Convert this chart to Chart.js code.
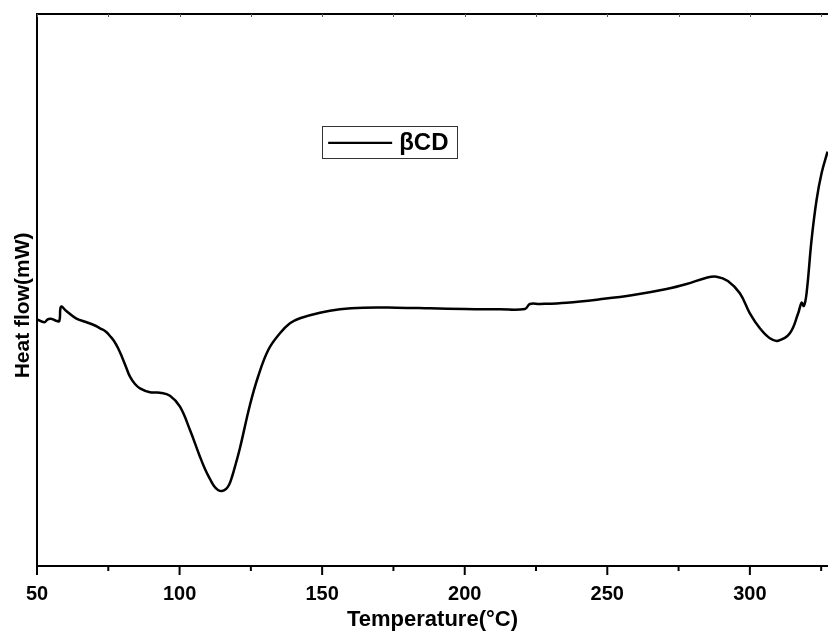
<!DOCTYPE html>
<html>
<head>
<meta charset="utf-8">
<script src="https://cdn.jsdelivr.net/npm/chart.js@4/dist/chart.umd.min.js"></script>
<style>
html,body{margin:0;padding:0;background:#fff;}
#c{display:block;}
</style>
</head>
<body>
<canvas id="c" width="828" height="632"></canvas>
<script>
// Temperature (°C)
const temperature = [50.0,52.56,53.75,54.91,56.66,57.82,58.42,60.17,63.67,67.18,70.69,72.09,74.19,75.60,77.00,78.40,79.80,81.21,82.61,84.36,86.11,89.62,93.13,96.63,100.14,103.65,107.15,108.91,110.66,112.06,113.46,114.87,116.27,117.32,118.37,119.78,121.18,124.68,127.49,131.10,135.20,138.71,142.22,149.23,156.24,164.41,176.12,187.80,200.07,212.34,221.11,222.86,226.37,235.73,247.41,259.08,270.79,277.80,284.81,288.32,292.28,296.49,300.0,303.51,307.01,309.92,314.03,316.94,318.13,318.93,319.88,321.63,323.39,325.14,327.24];
// Heat flow (arbitrary units)
const heatFlow = [24.67,24.37,24.67,24.73,24.53,24.50,25.93,25.53,24.77,24.40,24.00,23.77,23.43,23.00,22.50,21.80,20.90,19.90,18.93,18.20,17.77,17.37,17.33,17.03,15.93,13.60,10.93,9.70,8.70,8.00,7.60,7.50,7.70,8.10,8.90,10.30,11.80,16.10,18.90,21.60,23.27,24.27,24.77,25.33,25.67,25.83,25.83,25.77,25.70,25.67,25.70,26.20,26.20,26.33,26.67,27.10,27.70,28.20,28.83,28.93,28.50,27.27,25.27,23.77,22.77,22.53,23.27,25.27,26.33,26.00,27.27,32.60,36.60,39.27,41.43];
const xTickValues = [50,100,150,200,250,300];
const xMinorValues = [75,125,175,225,275,325];
const seriesLabel = 'βCD';
const xTitle = 'Temperature(°C)';
const yTitle = 'Heat flow(mW)';

const points = temperature.map((t,i)=>({x:t,y:heatFlow[i]}));
const FONT = '"Liberation Sans", Arial, sans-serif';

const decor = {
  id:'decor',
  afterDraw(chart){
    const ctx = chart.ctx, ca = chart.chartArea, xs = chart.scales.x;
    ctx.save();
    ctx.strokeStyle = '#000';
    ctx.lineWidth = 2;
    // top border
    ctx.beginPath();
    ctx.moveTo(ca.left-1, ca.top);
    ctx.lineTo(ca.right, ca.top);
    ctx.stroke();
    // bottom ticks
    xTickValues.forEach(v=>{
      const p = xs.getPixelForValue(v);
      ctx.beginPath(); ctx.moveTo(p, ca.bottom); ctx.lineTo(p, ca.bottom+9); ctx.stroke();
    });
    xMinorValues.forEach(v=>{
      if(v>xs.max) return;
      const p = xs.getPixelForValue(v);
      ctx.beginPath(); ctx.moveTo(p, ca.bottom); ctx.lineTo(p, ca.bottom+5); ctx.stroke();
    });
    // tiny top ticks
    ctx.lineWidth = 1;
    ctx.strokeStyle = '#555';
    xTickValues.concat(xMinorValues).forEach(v=>{
      if(v>xs.max) return;
      const p = Math.round(xs.getPixelForValue(v))+0.5;
      ctx.beginPath(); ctx.moveTo(p, ca.top); ctx.lineTo(p, ca.top+3); ctx.stroke();
    });
    // y axis title
    ctx.save();
    ctx.fillStyle = '#000';
    ctx.font = 'bold 21px ' + FONT;
    ctx.textAlign = 'center';
    ctx.textBaseline = 'middle';
    ctx.translate(23, ca.top + 0.528*(ca.bottom-ca.top));
    ctx.rotate(-Math.PI/2);
    ctx.fillText(yTitle, 0, 0);
    ctx.restore();
    // legend
    const lx = ca.left + 0.3605*(ca.right-ca.left);
    const ly = ca.top + 0.2035*(ca.bottom-ca.top);
    ctx.strokeStyle = '#333';
    ctx.lineWidth = 1;
    ctx.strokeRect(Math.round(lx)+0.5, Math.round(ly)+0.5, 135, 32);
    ctx.strokeStyle = '#000';
    ctx.lineWidth = 2.2;
    ctx.beginPath(); ctx.moveTo(lx+6, ly+16.5); ctx.lineTo(lx+70, ly+16.5); ctx.stroke();
    ctx.fillStyle = '#000';
    ctx.font = 'bold 24px ' + FONT;
    ctx.textBaseline = 'middle';
    ctx.fillText(seriesLabel, lx+77, ly+17);
    ctx.restore();
  }
};

new Chart(document.getElementById('c'), {
  type:'line',
  data:{datasets:[{
    label:seriesLabel,
    data:points,
    borderColor:'#000',
    borderWidth:2.5,
    pointRadius:0,
    tension:0.4,
    fill:false
  }]},
  options:{
    responsive:false,
    animation:false,
    layout:{padding:{top:14,right:0,left:0,bottom:0}},
    plugins:{legend:{display:false},tooltip:{enabled:false}},
    scales:{
      x:{
        type:'linear',
        min:50, max:327.4,
        afterBuildTicks(s){ s.ticks = xTickValues.map(v=>({value:v})); },
        afterFit(s){ s.height = 66; },
        grid:{display:false, drawTicks:false},
        border:{display:true,color:'#000',width:2},
        ticks:{color:'#000',padding:16,maxRotation:0,autoSkip:false,font:{family:FONT,size:20,weight:'bold'}},
        title:{display:true,text:xTitle,color:'#000',padding:{top:0,bottom:1},font:{family:FONT,size:22,weight:'bold',lineHeight:1}}
      },
      y:{
        min:0, max:55.2,
        afterFit(s){ s.width = 37; },
        grid:{display:false, drawTicks:false},
        border:{display:true,color:'#000',width:2},
        ticks:{display:false},
        title:{display:false,text:yTitle}
      }
    }
  },
  plugins:[decor]
});
</script>
</body>
</html>
